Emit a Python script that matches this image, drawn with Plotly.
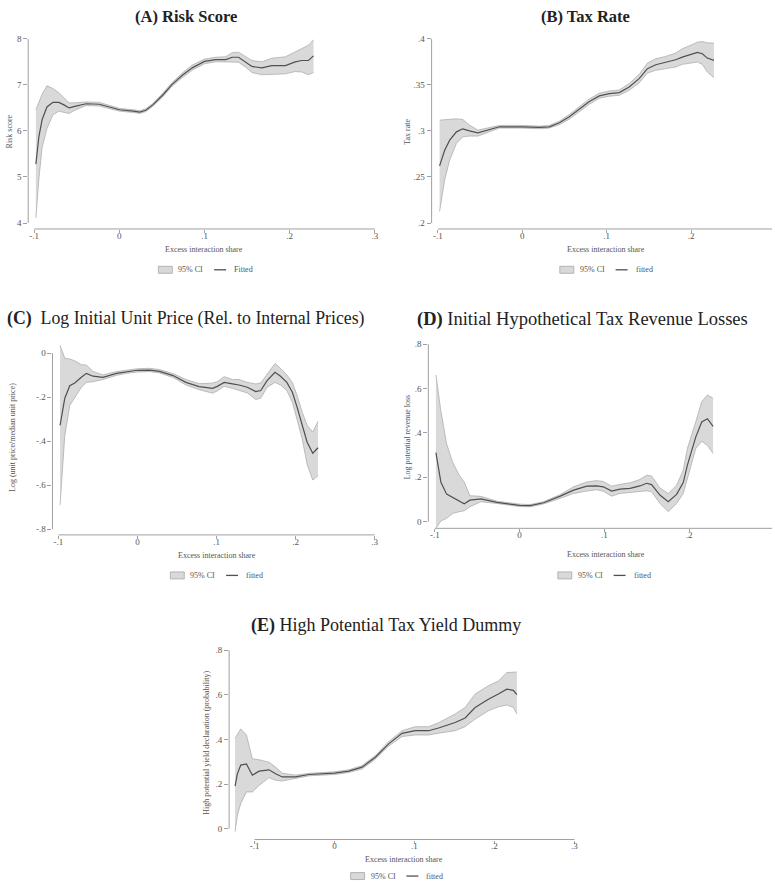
import plotly.graph_objects as go

W, H = 775, 888
FONT = "Liberation Serif"

# ---------------- data ----------------
# (A) Risk score
a_x = [-0.098, -0.0945, -0.0906, -0.085, -0.078, -0.071, -0.0645, -0.059, -0.051, -0.039, -0.0235,
       0.0, 0.0164, 0.024, 0.031, 0.039, 0.0505, 0.062, 0.074, 0.0856, 0.1, 0.113, 0.125, 0.1325,
       0.14, 0.148, 0.1556, 0.1673, 0.179, 0.195, 0.2065, 0.2142, 0.222, 0.228]
a_fit = [5.28, 5.87, 6.25, 6.52, 6.62, 6.62, 6.56, 6.50, 6.54, 6.59, 6.58,
         6.46, 6.43, 6.41, 6.45, 6.56, 6.77, 7.01, 7.21, 7.37, 7.51, 7.55, 7.55, 7.60,
         7.60, 7.50, 7.40, 7.37, 7.42, 7.42, 7.50, 7.53, 7.53, 7.63]
a_hi = [6.46, 6.62, 6.80, 6.98, 6.92, 6.83, 6.71, 6.61, 6.61, 6.63, 6.62,
        6.49, 6.46, 6.44, 6.48, 6.59, 6.81, 7.05, 7.26, 7.43, 7.56, 7.60, 7.61, 7.70,
        7.71, 7.62, 7.53, 7.50, 7.58, 7.61, 7.71, 7.79, 7.86, 7.98]
a_lo = [4.11, 4.95, 5.65, 6.05, 6.35, 6.43, 6.40, 6.38, 6.46, 6.55, 6.54,
        6.43, 6.40, 6.38, 6.42, 6.53, 6.73, 6.97, 7.16, 7.32, 7.46, 7.50, 7.50, 7.50,
        7.49, 7.39, 7.27, 7.22, 7.23, 7.24, 7.29, 7.28, 7.22, 7.27]

# (B) Tax rate
b_x = [-0.098, -0.092, -0.086, -0.078, -0.0705, -0.0626, -0.0527, -0.0389, -0.027, 0.0, 0.0205,
       0.032, 0.0441, 0.0557, 0.0675, 0.0795, 0.0913, 0.1031, 0.115, 0.1267, 0.1385, 0.1483,
       0.1582, 0.17, 0.1818, 0.1897, 0.2016, 0.2075, 0.2134, 0.2193, 0.2272]
b_fit = [0.262, 0.279, 0.290, 0.299, 0.3023, 0.300, 0.298, 0.3016, 0.3045, 0.3045, 0.3038,
         0.3045, 0.3088, 0.3153, 0.3236, 0.3319, 0.3380, 0.3405, 0.3416, 0.3477, 0.3568, 0.3676,
         0.3719, 0.3744, 0.3773, 0.3802, 0.3838, 0.3852, 0.3838, 0.3791, 0.3766]
b_hi = [0.3117, 0.3121, 0.3124, 0.3132, 0.3124, 0.3063, 0.3009, 0.3038, 0.306, 0.306, 0.3052,
        0.306, 0.3106, 0.3178, 0.3265, 0.3348, 0.3409, 0.3434, 0.3445, 0.3514, 0.3614, 0.3737,
        0.3784, 0.3809, 0.3845, 0.3892, 0.3939, 0.3964, 0.3971, 0.3957, 0.3953]
b_lo = [0.2126, 0.2468, 0.2685, 0.2865, 0.2937, 0.2944, 0.2944, 0.2995, 0.3031, 0.3031, 0.3023,
        0.3031, 0.307, 0.3128, 0.3207, 0.329, 0.3355, 0.3377, 0.3387, 0.3441, 0.3521, 0.3629,
        0.3658, 0.3676, 0.3694, 0.3723, 0.3741, 0.3748, 0.3723, 0.364, 0.3578]

# (C) Log initial unit price
c_x = [-0.098, -0.092, -0.0857, -0.0794, -0.071, -0.0647, -0.0563, -0.0437, -0.0265, -0.0139,
       0.0, 0.0155, 0.028, 0.045, 0.0613, 0.078, 0.095, 0.101, 0.1097, 0.1202, 0.1286, 0.139,
       0.1496, 0.156, 0.164, 0.174, 0.181, 0.189, 0.196, 0.202, 0.2084, 0.2147, 0.2218, 0.2285]
c_fit = [-0.328, -0.205, -0.148, -0.136, -0.110, -0.092, -0.105, -0.110, -0.092, -0.084,
         -0.078, -0.077, -0.083, -0.102, -0.133, -0.152, -0.160, -0.151, -0.133, -0.140, -0.145, -0.155,
         -0.175, -0.170, -0.125, -0.087, -0.105, -0.133, -0.178, -0.246, -0.330, -0.405, -0.455, -0.430]
c_hi = [0.036, -0.023, -0.027, -0.035, -0.053, -0.054, -0.083, -0.099, -0.084, -0.077,
        -0.071, -0.069, -0.075, -0.093, -0.120, -0.139, -0.136, -0.130, -0.107, -0.120, -0.120, -0.133,
        -0.140, -0.136, -0.095, -0.047, -0.069, -0.099, -0.133, -0.193, -0.268, -0.328, -0.359, -0.310]
c_lo = [-0.690, -0.374, -0.238, -0.200, -0.155, -0.133, -0.130, -0.120, -0.101, -0.092,
        -0.086, -0.084, -0.090, -0.111, -0.145, -0.166, -0.182, -0.172, -0.151, -0.160, -0.170, -0.181,
        -0.211, -0.205, -0.155, -0.133, -0.145, -0.170, -0.223, -0.306, -0.389, -0.506, -0.577, -0.557]

# (D) Initial hypothetical tax revenue losses
d_x = [-0.0988, -0.093, -0.0862, -0.0792, -0.0713, -0.0654, -0.0587, -0.0457, -0.0267, 0.0, 0.0126,
       0.0283, 0.048, 0.0637, 0.0794, 0.091, 0.0988, 0.1086, 0.1185, 0.1303, 0.142, 0.1499, 0.1558,
       0.1656, 0.1755, 0.1853, 0.1932, 0.198, 0.2079, 0.215, 0.2217, 0.2284]
d_fit = [0.311, 0.179, 0.124, 0.109, 0.090, 0.081, 0.097, 0.103, 0.087, 0.073, 0.072,
         0.085, 0.115, 0.142, 0.160, 0.161, 0.157, 0.138, 0.147, 0.150, 0.161, 0.173, 0.167,
         0.120, 0.090, 0.123, 0.176, 0.254, 0.381, 0.449, 0.464, 0.429]
d_hi = [0.661, 0.500, 0.351, 0.269, 0.209, 0.179, 0.117, 0.114, 0.092, 0.079, 0.077,
        0.090, 0.122, 0.157, 0.179, 0.185, 0.181, 0.160, 0.168, 0.175, 0.190, 0.209, 0.206,
        0.152, 0.127, 0.164, 0.232, 0.329, 0.449, 0.541, 0.571, 0.556]
d_lo = [-0.030, 0.003, 0.015, 0.037, 0.045, 0.049, 0.067, 0.090, 0.082, 0.068, 0.067,
        0.080, 0.105, 0.127, 0.138, 0.144, 0.137, 0.115, 0.127, 0.131, 0.137, 0.139, 0.135,
        0.083, 0.045, 0.082, 0.127, 0.194, 0.329, 0.362, 0.344, 0.307]

# (E) High potential tax yield dummy
e_x = [-0.1243, -0.1214, -0.1172, -0.1101, -0.1027, -0.0943, -0.0819, -0.0736, -0.0653, -0.0486,
       -0.032, 0.0, 0.0179, 0.0345, 0.0511, 0.0677, 0.0844, 0.101, 0.1176, 0.1301, 0.1509, 0.1633,
       0.1758, 0.1924, 0.2049, 0.2153, 0.2236, 0.228]
e_fit = [0.191, 0.246, 0.285, 0.290, 0.240, 0.258, 0.264, 0.246, 0.232, 0.232,
         0.243, 0.249, 0.258, 0.276, 0.320, 0.380, 0.427, 0.439, 0.439, 0.451, 0.476, 0.496,
         0.543, 0.580, 0.603, 0.625, 0.620, 0.600]
e_hi = [0.405, 0.420, 0.447, 0.420, 0.313, 0.309, 0.298, 0.276, 0.249, 0.240,
        0.248, 0.255, 0.264, 0.283, 0.328, 0.390, 0.439, 0.457, 0.457, 0.475, 0.514, 0.543,
        0.603, 0.640, 0.662, 0.699, 0.703, 0.702]
e_lo = [-0.013, 0.060, 0.113, 0.165, 0.165, 0.194, 0.229, 0.217, 0.214, 0.224,
        0.237, 0.243, 0.252, 0.268, 0.312, 0.370, 0.413, 0.420, 0.420, 0.428, 0.439, 0.457,
        0.491, 0.528, 0.546, 0.554, 0.543, 0.514]

x_ticks = [-0.1, 0.0, 0.1, 0.2, 0.3]
x_ticktext = ["-.1", "0", ".1", ".2", ".3"]

titles = ["(A) Risk Score", "(B) Tax Rate",
          "(C)  Log Initial Unit Price (Rel. to Internal Prices)",
          "(D) Initial Hypothetical Tax Revenue Losses",
          "(E) High Potential Tax Yield Dummy"]
y_titles = ["Risk score", "Tax rate", "Log (unit price/median unit price)",
            "Log potential revenue loss", "High potential yield declaration (probability)"]
x_title = "Excess interaction share"
ci_name = "95% CI"
fit_names = ["Fitted", "fitted", "fitted", "fitted", "fitted"]

y_tickvals = [[4, 5, 6, 7, 8],
              [0.2, 0.25, 0.3, 0.35, 0.4],
              [-0.8, -0.6, -0.4, -0.2, 0.0],
              [0.0, 0.2, 0.4, 0.6, 0.8],
              [0.0, 0.2, 0.4, 0.6, 0.8]]
y_ticktext = [["4", "5", "6", "7", "8"],
              [".2", ".25", ".3", ".35", ".4"],
              ["-.8", "-.6", "-.4", "-.2", "0"],
              ["0", ".2", ".4", ".6", ".8"],
              ["0", ".2", ".4", ".6", ".8"]]

series = [(a_x, a_fit, a_lo, a_hi), (b_x, b_fit, b_lo, b_hi), (c_x, c_fit, c_lo, c_hi),
          (d_x, d_fit, d_lo, d_hi), (e_x, e_fit, e_lo, e_hi)]

# ---------------- layout geometry (pixels) ----------------
geo = [
    dict(box=(28.3, 378, 34.5, 226), xc=(-0.1, 34.3, 0.3, 376.3), yc=(8, 35, 4, 220),
         title=(187, 13, 16.5, True), ytl=(9, 128), xtl=(205, 247), leg=(205, 267)),
    dict(box=(433.3, 775, 34.5, 226), xc=(-0.1, 439.6, 0.2, 693.7), yc=(0.4, 35, 0.2, 220),
         title=(588, 13, 16.5, True), ytl=(409, 128), xtl=(608, 247), leg=(608, 267)),
    dict(box=(52.7, 377, 338, 533.3), xc=(-0.1, 58.7, 0.3, 376), yc=(0.0, 350.7, -0.8, 527.5),
         title=(187, 316, 17.8, False), ytl=(12, 435), xtl=(218, 554), leg=(217, 574)),
    dict(box=(430, 775, 338, 526.7), xc=(-0.1, 436.6, 0.2, 691.7), yc=(0.8, 341.7, 0.0, 520),
         title=(585, 317, 18.5, False), ytl=(409, 435), xtl=(608, 553), leg=(606, 574)),
    dict(box=(230, 578, 645, 839.3), xc=(-0.1, 255.5, 0.3, 576.7), yc=(0.8, 649, 0.0, 828.5),
         title=(387.5, 624, 18, False), ytl=(207, 742), xtl=(406, 859), leg=(398, 876)),
]

LINE_C = "#505050"
BAND_FILL = "#d9d9d9"
BAND_EDGE = "#a6a6a6"
AXIS_C = "#a0a0a0"
TXT_C = "#555555"

fig = go.Figure()
shapes, annots = [], []


def px2val(px, cal):
    v1, p1, v2, p2 = cal
    return v1 + (px - p1) * (v2 - v1) / (p2 - p1)


for i, ((xs, fit, lo, hi), g) in enumerate(zip(series, geo)):
    n = i + 1
    xa = "x" if n == 1 else f"x{n}"
    ya = "y" if n == 1 else f"y{n}"
    L, R, T, B = g["box"]
    xr = [px2val(L, g["xc"]), px2val(R, g["xc"])]
    yr = [px2val(B, g["yc"]), px2val(T, g["yc"])]

    fig.add_trace(go.Scatter(x=xs, y=hi, mode="lines", line=dict(color=BAND_EDGE, width=0.7),
                             showlegend=False, hoverinfo="skip", xaxis=xa, yaxis=ya))
    fig.add_trace(go.Scatter(x=xs, y=lo, mode="lines", fill="tonexty", fillcolor=BAND_FILL,
                             line=dict(color=BAND_EDGE, width=0.7), name=ci_name,
                             showlegend=False, xaxis=xa, yaxis=ya))
    fig.add_trace(go.Scatter(x=xs, y=fit, mode="lines", line=dict(color=LINE_C, width=1.2),
                             name=fit_names[i], showlegend=False, xaxis=xa, yaxis=ya))

    axx = dict(domain=[L / W, R / W], range=xr, showgrid=False, zeroline=False, showline=False,
               tickvals=x_ticks, ticktext=x_ticktext, ticks="outside", ticklen=3, tickwidth=1,
               tickcolor=AXIS_C, tickfont=dict(family=FONT, size=9, color=TXT_C),
               ticklabelstandoff=-5, anchor=ya, fixedrange=True)
    axy = dict(domain=[1 - B / H, 1 - T / H], range=yr, showgrid=False, zeroline=False,
               showline=False, tickvals=y_tickvals[i], ticktext=y_ticktext[i], ticks="outside",
               ticklen=4, tickwidth=1, tickcolor=AXIS_C,
               tickfont=dict(family=FONT, size=9, color=TXT_C), anchor=xa, fixedrange=True)
    fig.layout[("xaxis" if n == 1 else f"xaxis{n}")] = axx
    fig.layout[("yaxis" if n == 1 else f"yaxis{n}")] = axy

    # axis lines (Stata style, detached)
    shapes.append(dict(type="line", xref=xa, yref=f"{ya} domain", x0=x_ticks[0], x1=x_ticks[-1],
                       y0=0, y1=0, line=dict(color=AXIS_C, width=1)))
    shapes.append(dict(type="line", xref=f"{xa} domain", yref=ya, x0=0, x1=0,
                       y0=min(y_tickvals[i]), y1=max(y_tickvals[i]),
                       line=dict(color=AXIS_C, width=1)))

    # title
    tx, ty, tsize, tbold = g["title"]
    t = titles[i]
    if tbold:
        ttext = f"<b>{t}</b>"
    else:
        lab, rest = t.split(")", 1)
        ttext = f"<b>{lab})</b>{rest.replace('  ', '&nbsp; ')}"
    annots.append(dict(text=ttext, x=tx / W, y=1 - ty / H, xref="paper", yref="paper",
                       showarrow=False, xanchor="center", yanchor="middle",
                       font=dict(family=FONT, size=tsize, color="#222222")))
    # axis titles
    ax_, ay_ = g["ytl"]
    annots.append(dict(text=y_titles[i], x=ax_ / W, y=1 - ay_ / H, xref="paper", yref="paper",
                       showarrow=False, textangle=-90, xanchor="center", yanchor="middle",
                       font=dict(family=FONT, size=8, color=TXT_C)))
    bx_, by_ = g["xtl"]
    annots.append(dict(text=x_title, x=bx_ / W, y=1 - by_ / H, xref="paper", yref="paper",
                       showarrow=False, xanchor="center", yanchor="middle",
                       font=dict(family=FONT, size=8, color=TXT_C)))
    # legend key
    c, ly = g["leg"]
    shapes.append(dict(type="rect", xref="paper", yref="paper", x0=(c - 46) / W, x1=(c - 32) / W,
                       y0=1 - (ly + 3.5) / H, y1=1 - (ly - 3.5) / H, fillcolor=BAND_FILL,
                       line=dict(color=BAND_EDGE, width=0.8)))
    shapes.append(dict(type="line", xref="paper", yref="paper", x0=(c + 10) / W, x1=(c + 22) / W,
                       y0=1 - ly / H, y1=1 - ly / H, line=dict(color=LINE_C, width=1.3)))
    annots.append(dict(text=ci_name, x=(c - 28) / W, y=1 - ly / H, xref="paper", yref="paper",
                       showarrow=False, xanchor="left", yanchor="middle",
                       font=dict(family=FONT, size=8, color=TXT_C)))
    annots.append(dict(text=fit_names[i], x=(c + 28) / W, y=1 - ly / H, xref="paper", yref="paper",
                       showarrow=False, xanchor="left", yanchor="middle",
                       font=dict(family=FONT, size=8, color=TXT_C)))

fig.update_layout(width=W, height=H, margin=dict(l=0, r=0, t=0, b=0),
                  paper_bgcolor="white", plot_bgcolor="white", showlegend=False,
                  shapes=shapes, annotations=annots, font=dict(family=FONT))

fig.write_html("out.html", config={"displayModeBar": False},
               post_script="document.body.style.margin='0';document.body.style.overflow='hidden';")
